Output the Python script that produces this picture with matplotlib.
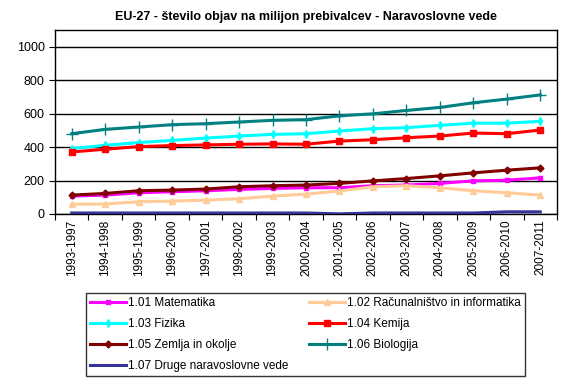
import matplotlib
matplotlib.use("Agg")
import matplotlib.pyplot as plt
import numpy as np

plt.rcParams['font.family'] = ['Liberation Sans', 'DejaVu Sans']

categories = ["1993-1997", "1994-1998", "1995-1999", "1996-2000", "1997-2001",
              "1998-2002", "1999-2003", "2000-2004", "2001-2005", "2002-2006",
              "2003-2007", "2004-2008", "2005-2009", "2006-2010", "2007-2011"]

matematika = [107, 113, 127, 133, 139, 147, 153, 157, 157, 169, 173, 183, 198, 202, 216]
racunalnistvo = [58, 60, 73, 77, 83, 91, 107, 119, 137, 163, 169, 157, 139, 127, 113]
fizika = [391, 411, 427, 440, 454, 466, 476, 480, 496, 510, 516, 530, 543, 543, 554]
kemija = [371, 387, 403, 409, 413, 417, 419, 417, 436, 444, 456, 466, 484, 480, 502]
zemlja = [113, 123, 139, 143, 149, 163, 169, 173, 183, 198, 212, 228, 246, 262, 276]
biologija = [480, 506, 520, 534, 540, 550, 560, 564, 587, 599, 619, 637, 665, 687, 712]
druge = [6, 6, 6, 6, 6, 6, 6, 6, 1, 6, 6, 6, 6, 13, 13]

labels = ["1.01 Matematika", "1.02 Računalništvo in informatika", "1.03 Fizika",
          "1.04 Kemija", "1.05 Zemlja in okolje", "1.06 Biologija",
          "1.07 Druge naravoslovne vede"]

fig = plt.figure(figsize=(5.62, 3.85), dpi=100)
ax = fig.add_axes([55/562, 1-214/385, 502/562, 184/385])

x = np.arange(len(categories))
lw = 2.2
ax.plot(x, matematika, color='#FF00FF', marker='s', ms=3.5, lw=lw, label=labels[0], zorder=3)
ax.plot(x, racunalnistvo, color='#FFCC99', marker='^', ms=4, lw=lw, label=labels[1], zorder=3)
ax.plot(x, fizika, color='#00FFFF', marker='d', ms=4, lw=lw, label=labels[2], zorder=3)
ax.plot(x, kemija, color='#FF0000', marker='s', ms=4.5, lw=lw, label=labels[3], zorder=3)
ax.plot(x, zemlja, color='#800000', marker='D', ms=3.5, lw=lw, label=labels[4], zorder=3)
ax.plot(x, biologija, color='#008080', marker='+', ms=8, mew=1, lw=lw, label=labels[5], zorder=3)
ax.plot(x, druge, color='#333399', lw=lw, label=labels[6], zorder=3)

ax.set_xlim(-0.5, len(categories) - 0.5)
ax.set_ylim(0, 1100)
ax.set_yticks(range(0, 1001, 200))
ax.tick_params(axis='y', labelsize=9, direction='out', length=4)
ax.set_xticks(np.arange(len(categories) + 1) - 0.5, minor=False)
ax.set_xticklabels([])
ax.set_xticks(x, minor=True)
ax.set_xticklabels(categories, minor=True, rotation=90, fontsize=8.5)
ax.tick_params(axis='x', which='major', direction='out', length=4)
ax.tick_params(axis='x', which='minor', length=0, pad=4)
ax.grid(axis='y', color='black', lw=1)
for s in ax.spines.values():
    s.set_color('black')
    s.set_linewidth(1)

ax.set_title("EU-27 - število objav na milijon prebivalcev - Naravoslovne vede",
             fontsize=9, fontweight='bold', pad=7)

order = [0, 2, 4, 6, 1, 3, 5]
h, l = ax.get_legend_handles_labels()
leg = fig.legend([h[i] for i in order], [l[i] for i in order], loc='lower left',
                 bbox_to_anchor=(86/562, 1-376/385, 439/562, 82/385),
                 mode='expand', ncol=2, fontsize=8.5, frameon=True, fancybox=False,
                 edgecolor='black', handlelength=3.0, handletextpad=0.2,
                 labelspacing=0.75, borderpad=0.35, borderaxespad=0, columnspacing=1.0)
leg.get_frame().set_linewidth(1)

fig.savefig("out.png", dpi=100)
